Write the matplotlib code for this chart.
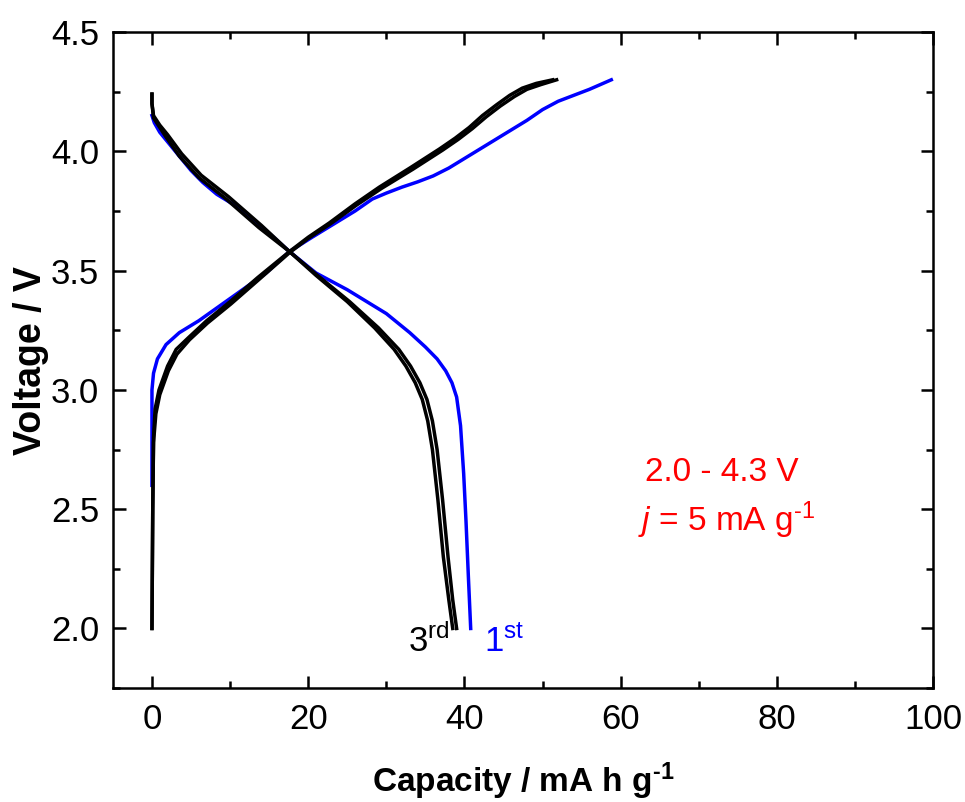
import numpy as np
import matplotlib.pyplot as plt
from matplotlib.ticker import MultipleLocator

plt.rcParams['font.family'] = ['Liberation Sans', 'DejaVu Sans']
plt.rcParams['mathtext.fontset'] = 'custom'
plt.rcParams['mathtext.rm'] = 'Liberation Sans'
plt.rcParams['mathtext.it'] = 'Liberation Sans:italic'
plt.rcParams['mathtext.bf'] = 'Liberation Sans:bold'

# cycle 1 (blue)
cap_ch_1 = [0.0, 0.0, 0.0, 0.2, 0.7, 1.8, 3.5, 6.0, 10.3, 14.6, 17.6, 20.5, 23.5, 26.0, 28.2, 30.0, 32.0, 34.0, 36.0, 38.0, 40.0, 42.0, 44.0, 46.0, 48.0, 50.0, 52.0, 54.0, 56.0, 58.8]
v_ch_1 = [2.60, 2.80, 3.00, 3.07, 3.13, 3.19, 3.24, 3.29, 3.39, 3.49, 3.58, 3.64, 3.70, 3.75, 3.80, 3.825, 3.85, 3.872, 3.897, 3.93, 3.97, 4.01, 4.05, 4.09, 4.13, 4.175, 4.21, 4.235, 4.26, 4.30]
cap_dis_1 = [0.0, 0.3, 1.0, 2.0, 3.5, 5.0, 6.5, 8.3, 10.3, 13.5, 17.6, 21.0, 25.0, 28.0, 30.0, 33.0, 35.0, 36.5, 37.6, 38.4, 39.0, 39.5, 39.9, 40.2, 40.5, 40.8]
v_dis_1 = [4.15, 4.12, 4.08, 4.04, 3.98, 3.92, 3.87, 3.82, 3.78, 3.70, 3.58, 3.49, 3.42, 3.36, 3.32, 3.24, 3.18, 3.13, 3.08, 3.03, 2.97, 2.85, 2.65, 2.45, 2.22, 2.00]

# cycle 2 (black)
cap_ch_2 = [0.0, 0.1, 0.2, 0.4, 0.9, 2.0, 3.1, 4.7, 7.0, 10.0, 13.5, 17.6, 20.0, 22.7, 26.0, 29.1, 33.0, 36.8, 38.8, 40.6, 42.3, 44.1, 45.8, 47.4, 49.2, 51.3]
v_ch_2 = [2.00, 2.50, 2.80, 2.92, 3.00, 3.10, 3.17, 3.22, 3.29, 3.37, 3.47, 3.58, 3.64, 3.70, 3.78, 3.85, 3.93, 4.01, 4.055, 4.10, 4.15, 4.195, 4.235, 4.265, 4.285, 4.30]
cap_dis_2 = [0.0, 0.0, 0.2, 1.0, 1.8, 3.5, 6.0, 9.5, 13.7, 17.6, 21.0, 25.0, 28.5, 31.0, 32.5, 33.7, 34.6, 35.3, 35.9, 36.6, 37.3, 38.0, 38.5]
v_dis_2 = [4.24, 4.20, 4.14, 4.10, 4.06, 3.98, 3.89, 3.80, 3.68, 3.58, 3.48, 3.37, 3.26, 3.17, 3.10, 3.03, 2.96, 2.87, 2.75, 2.54, 2.30, 2.12, 2.00]

# cycle 3 (black)
cap_ch_3 = [0.0, 0.1, 0.2, 0.5, 1.0, 2.1, 3.2, 4.8, 7.1, 10.1, 13.6, 17.6, 20.0, 22.8, 26.2, 29.4, 33.4, 37.2, 39.2, 41.0, 42.8, 44.6, 46.4, 48.0, 49.8, 51.8]
v_ch_3 = [2.00, 2.50, 2.78, 2.90, 2.98, 3.08, 3.15, 3.21, 3.28, 3.36, 3.46, 3.575, 3.635, 3.695, 3.775, 3.845, 3.925, 4.005, 4.05, 4.095, 4.145, 4.19, 4.23, 4.26, 4.28, 4.30]
cap_dis_3 = [0.0, 0.0, 0.2, 1.0, 2.0, 3.8, 6.3, 9.8, 14.0, 17.6, 21.2, 25.3, 29.0, 31.6, 33.1, 34.3, 35.2, 35.9, 36.5, 37.2, 37.9, 38.5, 39.0]
v_dis_3 = [4.24, 4.20, 4.15, 4.11, 4.07, 3.99, 3.90, 3.81, 3.69, 3.58, 3.48, 3.37, 3.26, 3.17, 3.10, 3.03, 2.96, 2.87, 2.75, 2.54, 2.30, 2.12, 2.00]

fig = plt.figure(figsize=(9.65, 8.02), dpi=100)
ax = fig.add_axes([0.117, 0.142, 0.850, 0.818])

lw = 2.5
ax.plot(cap_ch_1, v_ch_1, color='#0000ff', lw=lw, solid_joinstyle='round')
ax.plot(cap_dis_1, v_dis_1, color='#0000ff', lw=lw, solid_joinstyle='round')
for cx, vy in [(cap_ch_2, v_ch_2), (cap_dis_2, v_dis_2), (cap_ch_3, v_ch_3), (cap_dis_3, v_dis_3)]:
    ax.plot(cx, vy, color='black', lw=lw, solid_joinstyle='round')

ax.set_xlim(-5, 100)
ax.set_ylim(1.75, 4.5)
ax.xaxis.set_major_locator(MultipleLocator(20))
ax.xaxis.set_minor_locator(MultipleLocator(10))
ax.yaxis.set_major_locator(MultipleLocator(0.5))
ax.yaxis.set_minor_locator(MultipleLocator(0.25))
ax.yaxis.set_major_formatter(plt.FormatStrFormatter('%.1f'))

ax.tick_params(which='both', direction='in', top=True, right=True, labelsize=25, width=1.8)
ax.tick_params(which='major', length=9, pad=11)
ax.tick_params(which='minor', length=5)
ax.tick_params(axis='y', which='major', pad=10)
for s in ax.spines.values():
    s.set_linewidth(1.8)

ax.set_xlabel('Capacity / mA h g$^{\\mathbf{\u20101}}$', fontsize=24, fontweight='bold', labelpad=17)
ax.set_ylabel('Voltage / V', fontsize=27, fontweight='bold', labelpad=1)

ax.text(32.8, 1.90, r'3$^{\mathrm{rd}}$', fontsize=25, color='black')
ax.text(42.5, 1.90, r'1$^{\mathrm{st}}$', fontsize=25, color='#0000ff')
ax.text(73, 2.62, '2.0 - 4.3 V', fontsize=24, color='red', ha='center')
ax.text(73.5, 2.41, r'$\mathit{j}$ = 5 mA g$^{\text{-1}}$', fontsize=24, color='red', ha='center')

fig.savefig('out.png', dpi=100)
